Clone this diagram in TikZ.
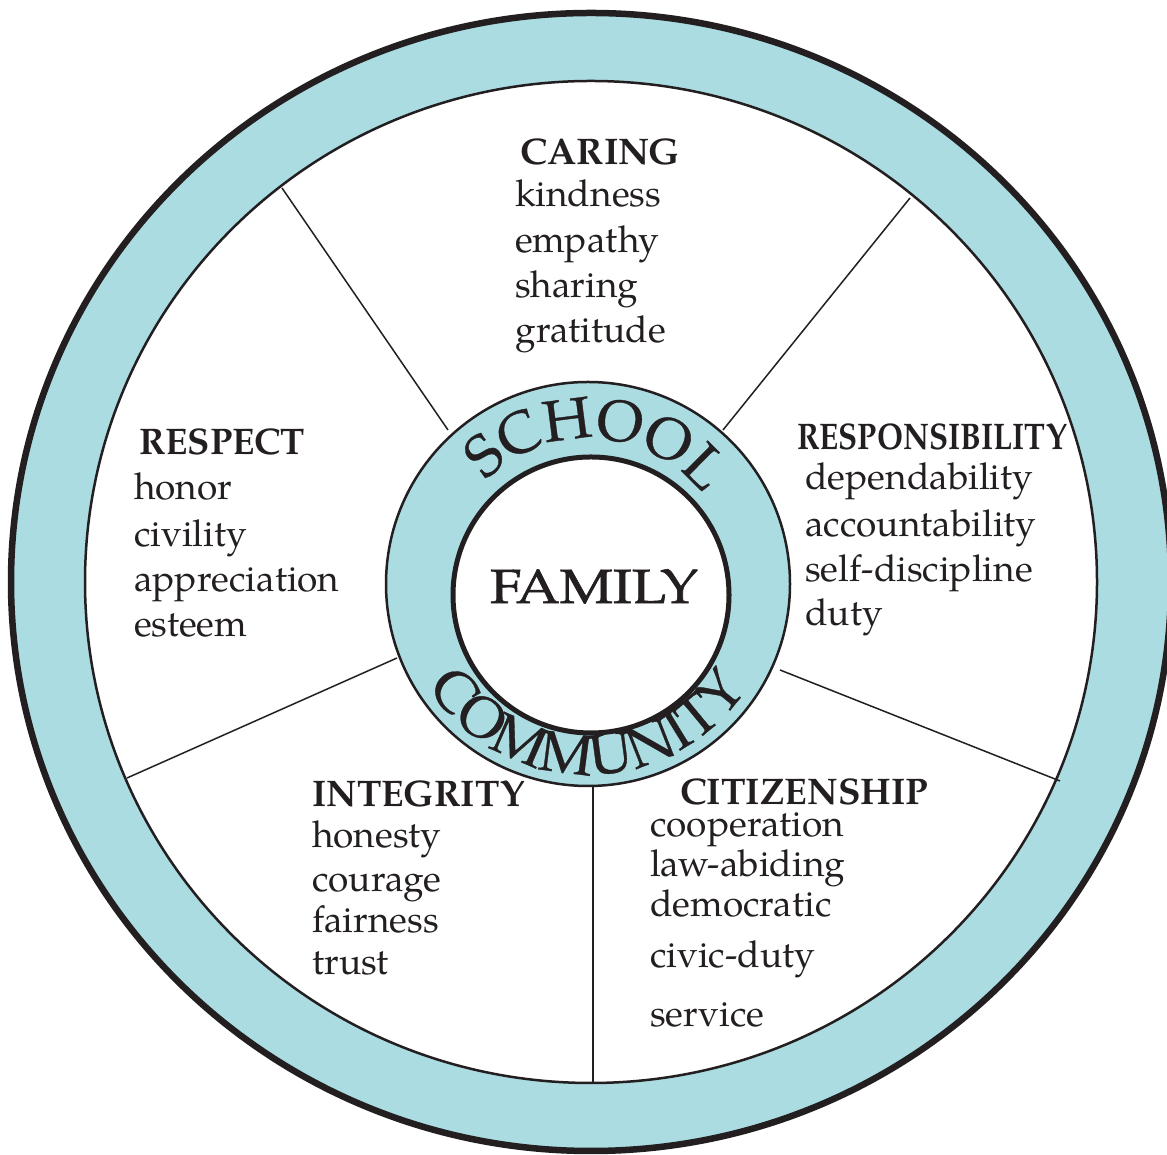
\documentclass[tikz,border=0pt]{standalone}
\usepackage{fontspec}
\setmainfont{TeX Gyre Pagella}
\newfontfamily\hubfont[FakeBold=1.2]{TeX Gyre Pagella}
\newfontfamily\arcfont[FakeBold=0.6]{TeX Gyre Pagella}
\usetikzlibrary{decorations.text}
\definecolor{ringblue}{RGB}{171,220,226}
\definecolor{ink}{RGB}{35,31,32}
\begin{document}
\begin{tikzpicture}[x=1pt,y=1pt,
  itemtext/.style={anchor=base west, inner sep=0pt, text=ink, font=\fontsize{37}{44}\selectfont},
  headtext/.style={anchor=base west, inner sep=0pt, text=ink, font=\fontsize{37}{44}\selectfont\bfseries},
  spoke/.style={draw=ink, line width=1.5pt}]
\fill[white] (0,0) rectangle (1167,1155);
\useasboundingbox (0,0) rectangle (1167,1155);
% outer ring
\fill[ringblue, even odd rule] (591,573) ellipse [x radius=580, y radius=569]
  (591,573) ellipse [x radius=506, y radius=501];
\draw[ink, line width=6.5pt] (591,573) ellipse [x radius=580, y radius=569];
\draw[ink, line width=2.5pt] (591,573) ellipse [x radius=506, y radius=501];
% spokes
\coordinate (s1a) at (448,725); \coordinate (s1b) at (282,967);
\coordinate (s2a) at (723,725); \coordinate (s2b) at (910,957);
\coordinate (s3a) at (780,485); \coordinate (s3b) at (1060,374);
\coordinate (s4a) at (593,369); \coordinate (s4b) at (593,72);
\coordinate (s5a) at (397,497); \coordinate (s5b) at (127,377);
\draw[spoke] (s1a) -- (s1b);
\draw[spoke] (s2a) -- (s2b);
\draw[spoke] (s3a) -- (s3b);
\draw[spoke] (s4a) -- (s4b);
\draw[spoke] (s5a) -- (s5b);
% hub
\node[circle, inner sep=0pt, minimum size=404pt, draw=ink, line width=2.5pt, fill=ringblue] (hub) at (588,571) {};
\node[circle, inner sep=0pt, minimum size=276pt, draw=ink, line width=5pt, fill=white] (core) at (591,560) {};
\node[anchor=base, inner sep=0pt, text=ink, font=\hubfont\fontsize{48}{48}\selectfont] (family) at (594,552) {\resizebox{208pt}{\height}{FAMILY}};
\path[decorate, decoration={text along path, text align=center, text color=ink,
  text={|\arcfont\fontsize{58}{58}\selectfont|SCHOOL}}]
  (588,571) ++(155:146) arc[start angle=155, end angle=18, radius=146];
\path[decorate, decoration={text along path, text align=center, text color=ink,
  text={|\arcfont\fontsize{57}{57}\selectfont|COMMUNITY}}]
  (588,571) ++(195:190) arc[start angle=195, end angle=344, radius=190];
% CARING
\node[headtext] (caring) at (520,990) {\resizebox{160pt}{\height}{CARING}};
\node[itemtext] (kindness) at (515,948) {kindness};
\node[itemtext] (empathy) at (515,902) {empathy};
\node[itemtext] (sharing) at (515,857) {sharing};
\node[itemtext] (gratitude) at (515,812) {gratitude};
% RESPECT
\node[headtext] (respect) at (139,700) {\resizebox{166pt}{\height}{RESPECT}};
\node[itemtext] (honor) at (134,655) {honor};
\node[itemtext] (civility) at (134,608) {civility};
\node[itemtext] (appreciation) at (134,563) {appreciation};
\node[itemtext] (esteem) at (134,518) {esteem};
% RESPONSIBILITY
\node[headtext] (responsibility) at (797,705) {\resizebox{270pt}{\height}{RESPONSIBILITY}};
\node[itemtext] (dependability) at (805,665) {dependability};
\node[itemtext] (accountability) at (805,618) {accountability};
\node[itemtext] (selfdiscipline) at (805,573) {self-discipline};
\node[itemtext] (duty) at (805,529) {duty};
% INTEGRITY
\node[headtext] (integrity) at (312,348) {\resizebox{213pt}{\height}{INTEGRITY}};
\node[itemtext] (honesty) at (312,307) {honesty};
\node[itemtext] (courage) at (312,263) {courage};
\node[itemtext] (fairness) at (312,222) {fairness};
\node[itemtext] (trust) at (312,180) {trust};
% CITIZENSHIP
\node[headtext] (citizenship) at (680,350) {\resizebox{248pt}{\height}{CITIZENSHIP}};
\node[itemtext] (cooperation) at (650,318) {cooperation};
\node[itemtext] (lawabiding) at (650,278) {law-abiding};
\node[itemtext] (democratic) at (650,238) {democratic};
\node[itemtext] (civicduty) at (650,187) {civic-duty};
\node[itemtext] (service) at (650,128) {service};
\end{tikzpicture}
\end{document}
